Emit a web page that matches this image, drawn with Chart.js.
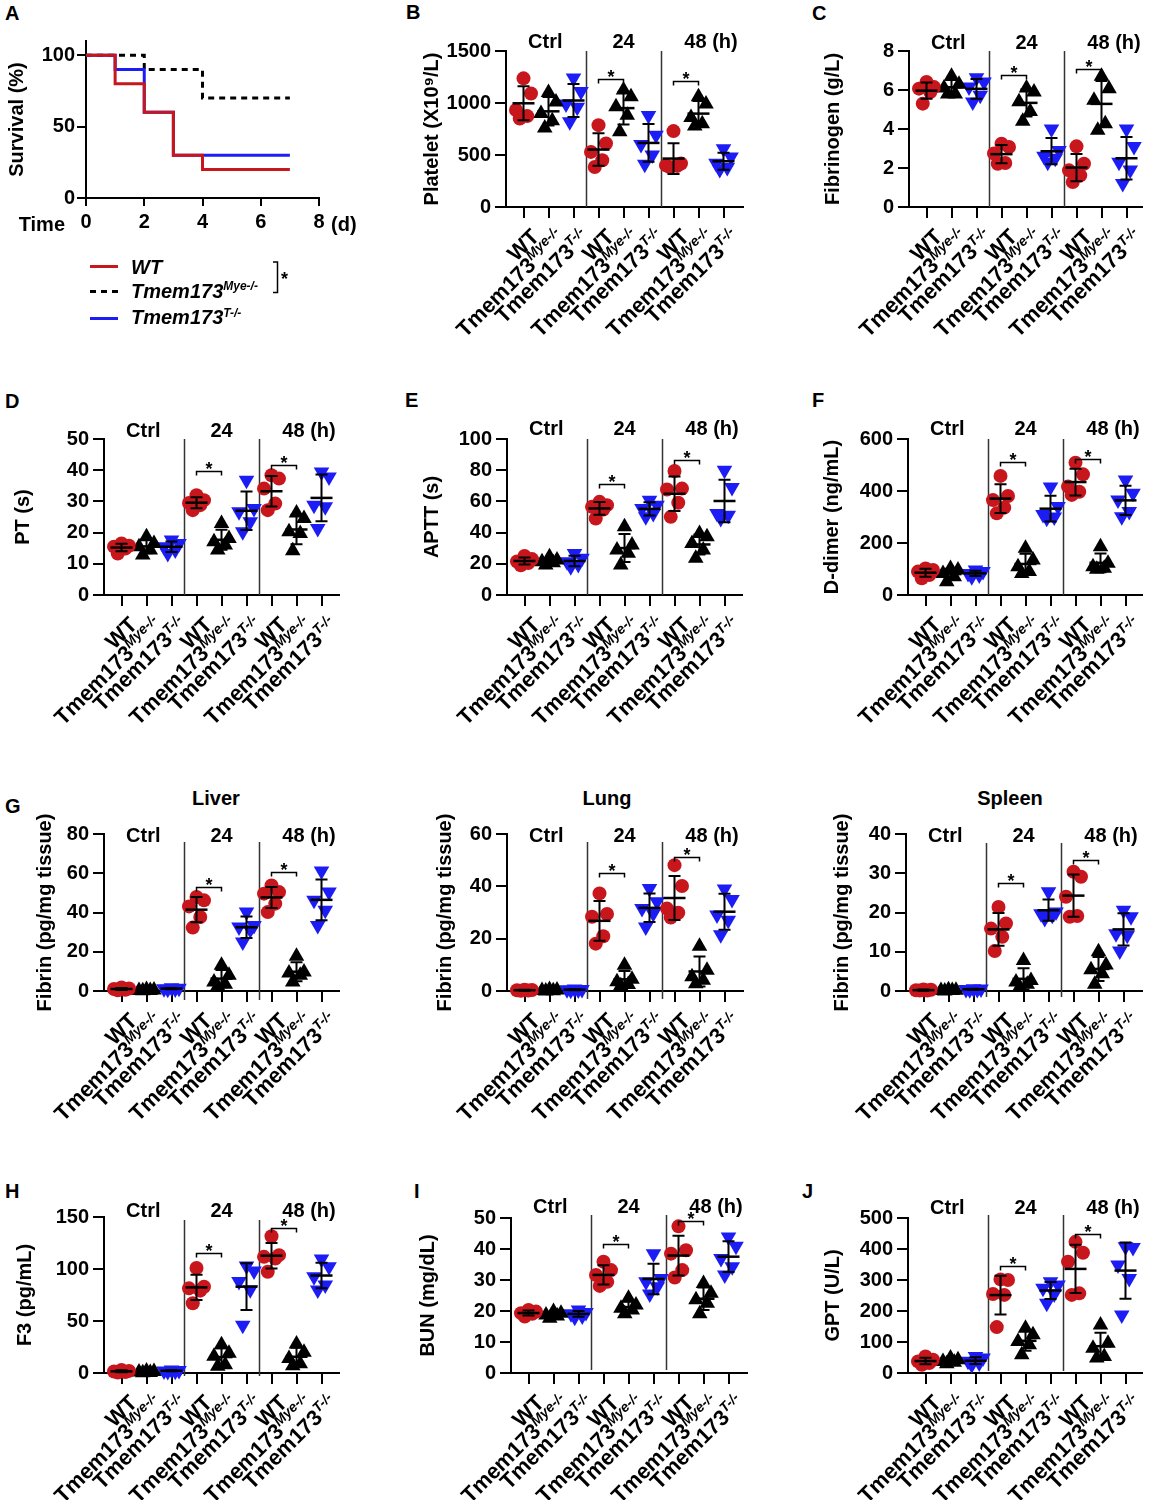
<!DOCTYPE html>
<html><head><meta charset="utf-8">
<script src="https://cdn.jsdelivr.net/npm/chart.js@4.4.1/dist/chart.umd.min.js"></script>
<style>
body{margin:0;background:#fff;width:1149px;height:1500px;position:relative;overflow:hidden;font-family:'Liberation Sans',Arial,sans-serif}
canvas{position:absolute}
.lab{position:absolute;font-weight:bold;font-size:20px;line-height:1;color:#000;white-space:nowrap}
.org{position:absolute;width:200px;text-align:center;font-weight:bold;font-size:20px;line-height:1;color:#000}
</style></head><body>
<div class="lab" style="left:5px;top:3px">A</div>
<div class="lab" style="left:406px;top:2px">B</div>
<div class="lab" style="left:812px;top:3px">C</div>
<div class="lab" style="left:5px;top:391px">D</div>
<div class="lab" style="left:405px;top:390px">E</div>
<div class="lab" style="left:812px;top:390px">F</div>
<div class="lab" style="left:5px;top:796px">G</div>
<div class="lab" style="left:5px;top:1181px">H</div>
<div class="lab" style="left:414px;top:1181px">I</div>
<div class="lab" style="left:802px;top:1181px">J</div>
<div class="org" style="left:116px;top:788px">Liver</div>
<div class="org" style="left:507px;top:788px">Lung</div>
<div class="org" style="left:910px;top:788px">Spleen</div>
<script>
/* ===== data ===== */
const DAYS=[0,1,2,3,4,5,6,7];
const SURV_WT =[100,80,60,30,20,20,20,20];
const SURV_MYE=[100,100,90,90,70,70,70,70];
const SURV_T  =[100,90,60,30,30,30,30,30];
const SURV_TICKS=[0,50,100];

const CATS=['WT','Tmem173','Tmem173'], SUPS=['','Mye-/-','T-/-'];
const TIMES=['Ctrl','24','48 (h)'];

// [Ctrl, 24h, 48h] x 5 mice
const PLT_WT =[[1237,1092,932,874,851],[787,610,530,450,385],[730,418,400,395,385]];
const PLT_MYE=[[1100,1010,900,830,760],[1124,1060,964,883,723],[1060,990,860,800,780]];
const PLT_T  =[[1240,1110,990,960,820],[880,690,600,500,410],[560,480,420,380,360]];
const FIB_WT =[[6.41,6.15,6.07,5.9,5.3],[3.25,3.08,2.74,2.26,2.22],[3.11,2.22,1.88,1.62,1.28]];
const FIB_MYE=[[6.7,6.3,6.1,5.8,5.8],[6.1,5.9,5.4,4.9,4.4],[6.7,6.07,5.47,4.27,3.93]];
const FIB_T  =[[6.63,6.41,6.15,5.73,5.38],[4.0,2.9,2.6,2.5,2.3],[4.0,3.1,2.3,1.9,1.2]];
const PT_WT  =[[16.5,15.8,15.5,14.9,13.3],[32,30.4,29.5,28.8,27.2],[38.4,37.3,34.1,29.3,27.2]];
const PT_MYE =[[18.7,16.5,15.5,14.4,12.8],[22.9,18.1,17.1,16,14.4],[26.3,24.5,20.3,19.7,14.2]];
const PT_T   =[[17.6,16.5,15.5,14.4,13.3],[36.8,27.7,26.7,23.5,20.3],[39.4,37.8,28.8,28.3,21.3]];
const APTT_WT =[[25,23,21.5,20.5,19],[59.7,57.6,56.5,54.8,49],[79.5,68.2,67.6,59.1,50.1]];
const APTT_MYE=[[24.5,22.4,21.3,20.7,19.2],[43.7,32,28.8,26.7,19.2],[39.4,37.3,33,28.8,23.5]];
const APTT_T  =[[26.6,23.5,21.3,19.6,18.1],[60.8,57.6,55.4,52.2,50.1],[80,68.9,52.2,51.2,49]];
const DD_WT  =[[102,96,90,77,64],[458,381,365,336,314],[509,464,417,397,385]];
const DD_MYE =[[102,96,83,70,51],[180,135,109,90,83],[186,122,109,103,99]];
const DD_T   =[[96,90,83,77,70],[415,340,310,300,295],[442,391,365,321,301]];
const LIV_WT =[[1.8,1.3,1.0,0.6,0.4],[47.9,46.2,43.1,37.7,32.3],[53.8,50.4,49.6,44.5,40.2]];
const LIV_MYE=[[0.8,0.5,0.3,0.2,0.1],[13.1,8,4.6,3.4,2.4],[17.7,9.7,9.2,8,4.6]];
const LIV_T  =[[1.6,1.4,1.2,1.0,0.9],[40.2,33.4,32.6,31.2,25],[61.1,50.4,46.2,41.1,33.4]];
const LUN_WT =[[0.5,0.4,0.3,0.2,0.1],[37.3,29.4,28.4,20.9,18.1],[48.1,40.1,31.5,29.9,28.1]];
const LUN_MYE=[[0.6,0.4,0.2,0.1,0],[9.8,4.5,3.5,2.5,2.0],[17.1,7.9,5.4,4.1,2.8]];
const LUN_T  =[[0.8,0.6,0.5,0.4,0.3],[39.2,34.1,31.5,29.6,24.5],[39,35,29,27,21.5]];
const SPL_WT =[[0.4,0.3,0.2,0.1,0.1],[21.4,17.2,15.9,13.8,10.2],[30.4,29.1,24,19.1,18.9]];
const SPL_MYE=[[0.3,0.2,0.1,0.1,0],[7.8,2.7,2.3,1.7,1.0],[10,6.6,5.4,4.4,1.7]];
const SPL_T  =[[0.6,0.5,0.4,0.4,0.3],[25.3,20.1,19.7,19.3,18.5],[20.6,18.9,14.6,14.2,10.2]];
const F3_WT  =[[3,2,1.5,1,0.5],[101,83,81.4,79.2,67],[131.5,113.3,111.7,110.1,97.3]];
const F3_MYE =[[2,1.5,1,0.5,0.3],[27.1,19.1,16,8,6.4],[28,20,14,9,7]];
const F3_T   =[[3,2.5,2,1.8,1.5],[103,98,88,80,46],[109.5,102.1,92.6,84.6,79.8]];
const BUN_WT =[[20.3,19.8,19.3,19.1,18.2],[35.9,33.2,31.6,29.4,28.1],[47.3,39.6,38.5,33.2,30.8]];
const BUN_MYE=[[19.8,19.3,18.7,18.4,17.7],[24.1,21.9,20.9,20.3,19.1],[28.9,25.7,23.6,22.5,19.1]];
const BUN_T  =[[20.3,19.5,19.1,18.4,18],[38.5,30.5,29.4,27.8,25.5],[43.9,40.9,36.9,34.3,31.6]];
const GPT_WT =[[53.5,42.8,37.5,32.1,26.8],[302,300,255,252,148],[423,388,359,257,252]];
const GPT_MYE=[[48,42.8,37.5,34.3,30],[144.5,123,101.7,91,59],[155,96,80,53,48]];
const GPT_T  =[[53,48,38,32,27],[294,284,273,255,225],[407,405,348,305,187]];

/* ===== style ===== */
const FONT="'Liberation Sans', Arial, Helvetica, sans-serif";
const RED='#c8161d', BLUE='#1c1cf5', BLK='#000';
const JIT=[0,0.3,-0.3,0.15,-0.15];
const MARK=[{s:'circle',r:7,rot:0,c:RED},{s:'triangle',r:9,rot:0,c:BLK},{s:'triangle',r:9,rot:180,c:BLUE}];
Chart.defaults.font.family=FONT; Chart.defaults.color=BLK;
const F20={size:20,weight:'bold',family:FONT};

// plot rect [left, top(max tick), right, bottom(0)] in page px
const PANELS=[
 {id:'B',rect:[506,51,743,207],   max:1500,step:500,title:'Platelet (X10⁹/L)',toff:74,hdy:-3,sep:[0,0],sig:[1230,1214],d:[PLT_WT,PLT_MYE,PLT_T]},
 {id:'C',rect:[909,51,1142,207],  max:8,step:2,title:'Fibrinogen (g/L)',toff:76,hdy:-2,sep:[0,0],sig:[6.75,7.09],d:[FIB_WT,FIB_MYE,FIB_T]},
 {id:'D',rect:[104,439,339,595],  max:50,step:10,title:'PT (s)',toff:81,hdy:-2,sep:[0,0],sig:[39.8,41.6],d:[PT_WT,PT_MYE,PT_T]},
 {id:'E',rect:[507,439,742,595],  max:100,step:20,title:'APTT (s)',toff:75,hdy:-4,sep:[0,0],sig:[71.4,86.4],d:[APTT_WT,APTT_MYE,APTT_T]},
 {id:'F',rect:[908,439,1142,595], max:600,step:200,title:'D-dimer (ng/mL)',toff:76,hdy:-4,sep:[0,0],sig:[513,523],d:[DD_WT,DD_MYE,DD_T]},
 {id:'G1',rect:[104,834,339,991], max:80,step:20,title:'Fibrin (pg/mg tissue)',toff:59,hdy:8,sep:[8,9],sig:[53,60.6],d:[LIV_WT,LIV_MYE,LIV_T]},
 {id:'G2',rect:[507,834,743,991], max:60,step:20,title:'Fibrin (pg/mg tissue)',toff:62,hdy:8,sep:[8,8],sig:[45.2,51.3],d:[LUN_WT,LUN_MYE,LUN_T]},
 {id:'G3',rect:[906,834,1142,991],max:40,step:10,title:'Fibrin (pg/mg tissue)',toff:64,hdy:8,sep:[9,6],sig:[27.6,33.4],d:[SPL_WT,SPL_MYE,SPL_T]},
 {id:'H',rect:[104,1217,339,1373],max:150,step:50,title:'F3 (pg/mL)',toff:79,hdy:0,sep:[3,3],sig:[115.5,139.5],d:[F3_WT,F3_MYE,F3_T]},
 {id:'I',rect:[511,1218,747,1373],max:50,step:10,title:'BUN (mg/dL)',toff:83,hdy:-5,sep:[-3,-3],sig:[41.5,49],d:[BUN_WT,BUN_MYE,BUN_T]},
 {id:'J',rect:[908,1218,1142,1373],max:500,step:100,title:'GPT (U/L)',toff:75,hdy:-4,sep:[-3,-2],sig:[345,450],d:[GPT_WT,GPT_MYE,GPT_T]}
];

/* ===== helpers ===== */
function mk(l,t,w,h){const c=document.createElement('canvas');c.width=w;c.height=h;
  c.style.left=l+'px';c.style.top=t+'px';c.style.width=w+'px';c.style.height=h+'px';document.body.appendChild(c);return c;}
function meanSd(a){const n=a.length,m=a.reduce((s,v)=>s+v,0)/n;
  return [m,Math.sqrt(a.reduce((s,v)=>s+(v-m)**2,0)/(n-1))];}
function supText(ctx,main,sup,x,y,align,italicMain,size,ssize,raise){
  const fm=`${italicMain?'italic ':''}bold ${size}px ${FONT}`, fs=`italic bold ${ssize}px ${FONT}`;
  ctx.font=fm; const w1=ctx.measureText(main).width;
  ctx.font=fs; const w2=sup?ctx.measureText(sup).width:0;
  const x0=align==='right'?x-w1-w2:x;
  ctx.textAlign='left'; ctx.textBaseline='alphabetic';
  ctx.font=fm; ctx.fillText(main,x0,y);
  if(sup){ctx.font=fs; ctx.fillText(sup,x0+w1,y-raise);}
}
const axisY=(extra)=>Object.assign({border:{color:BLK,width:2},
  grid:{drawOnChartArea:false,drawTicks:true,tickLength:11,color:BLK,lineWidth:2}},extra);

/* ---------- A : survival ---------- */
(function(){
  const cv=mk(0,0,380,340);
  const line=(ys,col,dash)=>({data:DAYS.map((d,i)=>({x:d,y:ys[i]})),borderColor:col,borderWidth:3,
      borderDash:dash||[],stepped:'before',pointRadius:0,fill:false,borderCapStyle:'butt'});
  const extra={id:'survExtra',afterDraw(c){
    const {ctx,chartArea:a,scales:{x}}=c;
    ctx.save(); ctx.fillStyle=BLK; ctx.font=`bold 20px ${FONT}`; ctx.textBaseline='alphabetic';
    ctx.textAlign='right'; ctx.fillText('Time',a.left-21,231);
    ctx.textAlign='left'; ctx.fillText('(d)',x.getPixelForValue(8)+12,231);
    // legend
    const rows=[[RED,[],266.5,274,'WT',''],[BLK,[6,5],291.5,297.5,'Tmem173','Mye-/-'],[BLUE,[],318.5,324,'Tmem173','T-/-']];
    rows.forEach(([col,dash,ly,ty,main,sup])=>{
      ctx.strokeStyle=col; ctx.lineWidth=3; ctx.setLineDash(dash);
      ctx.beginPath(); ctx.moveTo(90,ly); ctx.lineTo(118,ly); ctx.stroke();
      ctx.setLineDash([]); supText(ctx,main,sup,131,ty,'left',true,20,12,7.5);
    });
    ctx.strokeStyle=BLK; ctx.lineWidth=1.5;
    ctx.beginPath(); ctx.moveTo(273,262); ctx.lineTo(277.5,262); ctx.lineTo(277.5,292.5); ctx.lineTo(273,292.5); ctx.stroke();
    ctx.font=`bold 18px ${FONT}`; ctx.textAlign='left'; ctx.fillText('*',281,285);
    ctx.restore();
  }};
  new Chart(cv,{type:'line',
    data:{datasets:[line(SURV_WT,RED),line(SURV_T,BLUE),line(SURV_MYE,BLK,[6,5])]},
    options:{animation:false,responsive:false,devicePixelRatio:1,events:[],
      layout:{padding:{left:0,top:41,right:61,bottom:0},autoPadding:false},
      plugins:{legend:{display:false},tooltip:{enabled:false}},
      scales:{
        x:axisY({type:'linear',min:0,max:8,afterFit:s=>{s.height=142;},
          grid:{drawOnChartArea:false,tickLength:8,color:BLK,lineWidth:2},
          ticks:{stepSize:2,font:F20,color:BLK,padding:4,maxRotation:0,callback:v=>v}}),
        y:axisY({min:0,max:110,afterFit:s=>{s.width=86;},
          afterBuildTicks:s=>{s.ticks=SURV_TICKS.map(v=>({value:v}));},
          grid:{drawOnChartArea:false,tickLength:9,color:BLK,lineWidth:2},
          ticks:{font:F20,color:BLK,padding:2,autoSkip:false,callback:v=>v},
          title:{display:true,text:'Survival (%)',font:F20,color:BLK,padding:{top:5,bottom:0}}})
      }},
    plugins:[extra]});
})();

/* ---------- dot plots ---------- */
const PADL=110,PADT=45,PADR=12,PADB=135;
function deco(p){return {id:'deco',
  beforeDatasetsDraw(c){
    const {ctx,chartArea:a,scales:{x}}=c;
    ctx.save(); ctx.strokeStyle='#333'; ctx.lineWidth=1.5;
    [2.5,5.5].forEach(v=>{const px=Math.round(x.getPixelForValue(v))+.5;
      ctx.beginPath(); ctx.moveTo(px,a.top+p.sep[0]); ctx.lineTo(px,a.bottom+p.sep[1]); ctx.stroke();});
    ctx.restore();
  },
  afterDatasetsDraw(c){
    const {ctx,scales:{x,y}}=c;
    ctx.save(); ctx.strokeStyle=BLK; ctx.lineWidth=2;
    p.d.forEach((grp,g)=>grp.forEach((vals,ti)=>{
      const [m,sd]=meanSd(vals),px=x.getPixelForValue(ti*3+g);
      const yt=y.getPixelForValue(m+sd),yb=y.getPixelForValue(Math.max(0,m-sd)),ym=y.getPixelForValue(m);
      ctx.beginPath();
      ctx.moveTo(px,yt);ctx.lineTo(px,yb);
      ctx.moveTo(px-6,yt);ctx.lineTo(px+6,yt);
      ctx.moveTo(px-6,yb);ctx.lineTo(px+6,yb);
      ctx.stroke();
      ctx.lineWidth=2.5; ctx.beginPath(); ctx.moveTo(px-11,ym);ctx.lineTo(px+11,ym); ctx.stroke(); ctx.lineWidth=2;
    }));
    ctx.lineWidth=1.5; ctx.fillStyle=BLK; ctx.font=`bold 18px ${FONT}`; ctx.textAlign='center'; ctx.textBaseline='alphabetic';
    p.sig.forEach((v,k)=>{
      const x0=x.getPixelForValue(3+3*k),x1=x.getPixelForValue(4+3*k),py=Math.round(y.getPixelForValue(v))+.5;
      ctx.beginPath(); ctx.moveTo(x0,py+4); ctx.lineTo(x0,py); ctx.lineTo(x1,py); ctx.lineTo(x1,py+4); ctx.stroke();
      ctx.fillText('*',(x0+x1)/2,py+3);
    });
    ctx.restore();
  },
  afterDraw(c){
    const {ctx,chartArea:a,scales:{x}}=c;
    ctx.save(); ctx.fillStyle=BLK; ctx.font=`bold 20px ${FONT}`; ctx.textAlign='center'; ctx.textBaseline='alphabetic';
    [0.87,4,7.5].forEach((v,i)=>ctx.fillText(TIMES[i],x.getPixelForValue(v),a.top+p.hdy));
    for(let i=0;i<9;i++){
      const g=i%3; ctx.save();
      ctx.translate(x.getPixelForValue(i)+17,a.bottom+31); ctx.rotate(-Math.PI/4);
      supText(ctx,CATS[g],SUPS[g],0,0,'right',false,22,14,8);
      ctx.restore();
    }
    ctx.restore();
  }};}

function dotPanel(p){
  const [l,t,r,b]=p.rect, cw=PADL+(r-l)+PADR, ch=PADT+(b-t)+PADB;
  const cv=mk(l-PADL,t-PADT,cw,ch);
  const sets=MARK.map((m,g)=>({
    data:p.d[g].flatMap((vals,ti)=>vals.map((v,k)=>({x:ti*3+g+JIT[k],y:v}))),
    pointStyle:m.s,pointRadius:m.r,pointRotation:m.rot,pointBackgroundColor:m.c,pointBorderColor:m.c,
    pointBorderWidth:0,showLine:false,clip:false}));
  new Chart(cv,{type:'scatter',data:{datasets:sets},
    options:{animation:false,responsive:false,devicePixelRatio:1,events:[],
      layout:{padding:{left:0,top:PADT,right:PADR,bottom:0},autoPadding:false},
      plugins:{legend:{display:false},tooltip:{enabled:false}},
      scales:{
        x:axisY({type:'linear',min:-0.7,max:-0.7+(r-l)/25,afterFit:s=>{s.height=PADB;},
          afterBuildTicks:s=>{s.ticks=[0,1,2,3,4,5,6,7,8].map(v=>({value:v}));},
          ticks:{display:false}}),
        y:axisY({min:0,max:p.max,afterFit:s=>{s.width=PADL;},
          ticks:{stepSize:p.step,font:F20,color:BLK,padding:4,callback:v=>v},
          title:{display:true,text:p.title,font:F20,color:BLK,padding:{top:PADL-p.toff-12,bottom:0}}})
      }},
    plugins:[deco(p)]});
}
PANELS.forEach(dotPanel);
</script>
</body></html>
